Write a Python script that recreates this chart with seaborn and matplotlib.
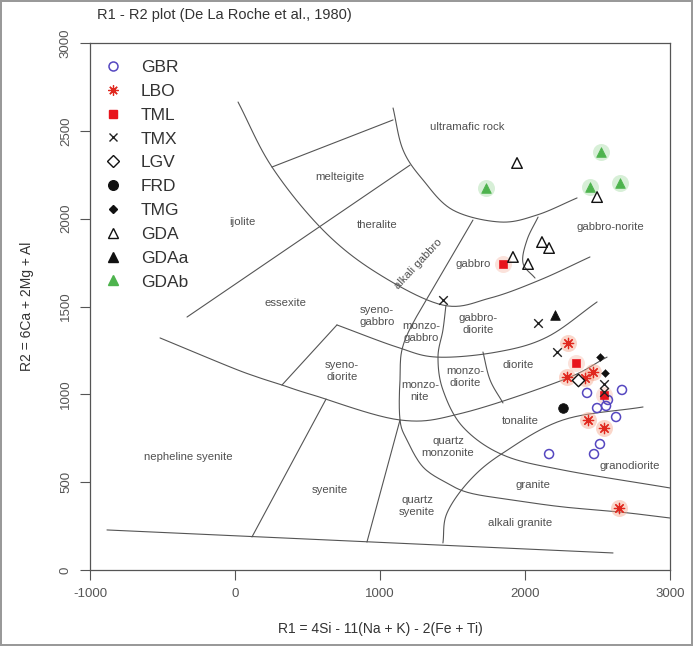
import matplotlib
matplotlib.use("Agg")
import numpy as np
import matplotlib.pyplot as plt
import seaborn as sns
import pandas as pd
from matplotlib.lines import Line2D

# ---- sample data (R1, R2) ----
gbr_r1 = [2428, 2497, 2559, 2669, 2628, 2517, 2476, 2166, 2572]
gbr_r2 = [1008, 922, 934, 1025, 871, 717, 660, 660, 968]
lbo_r1 = [2297, 2290, 2469, 2414, 2434, 2545, 2648]
lbo_r2 = [1292, 1099, 1127, 1093, 854, 808, 353]
tml_r1 = [1848, 2352, 2545]
tml_r2 = [1742, 1178, 996]
tmx_r1 = [1434, 2090, 2221, 2545, 2545]
tmx_r2 = [1537, 1406, 1241, 1013, 1059]
lgv_r1 = [2366]
lgv_r2 = [1082]
frd_r1 = [2262]
frd_r2 = [922]
tmg_r1 = [2517, 2552]
tmg_r2 = [1212, 1121]
gda_r1 = [1945, 2497, 2117, 2166, 1917, 2021]
gda_r2 = [2317, 2123, 1867, 1833, 1782, 1742]
gdaa_r1 = [2207]
gdaa_r2 = [1452]
gdab_r1 = [1731, 2448, 2655, 2524]
gdab_r2 = [2175, 2180, 2203, 2379]

groups = ["GBR", "LBO", "TML", "TMX", "LGV", "FRD", "TMG", "GDA", "GDAa", "GDAb"]

# ---- De La Roche field boundaries (R1, R2) ----
arc_upper_r1 = [21, 255, 607, 979, 1434, 1759, 2103, 2448]
arc_upper_r2 = [2664, 2294, 1935, 1691, 1508, 1548, 1651, 1782]
ultramafic_r1 = [1090, 1159, 1297, 1503, 1828, 2083, 2359]
ultramafic_r2 = [2630, 2391, 2220, 2049, 1981, 2021, 2118]
melteigite_r1 = [255, 1090]
melteigite_r2 = [2294, 2562]
ijolite_r1 = [-331, 1207]
ijolite_r2 = [1440, 2305]
alk_gabbro_r1 = [1641, 1400, 1172, 1138, 1138, 1186, 1297, 1462, 1621, 1917, 2262, 2655, 3000]
alk_gabbro_r2 = [1992, 1651, 1309, 1082, 854, 740, 586, 495, 438, 398, 359, 330, 296]
monzo_r1 = [1455, 1434, 1400, 1434, 1572, 1848, 2262, 3000]
monzo_r2 = [1508, 1366, 1212, 1025, 814, 655, 569, 467]
tonalite_r1 = [2814, 2262, 1848, 1621, 1462, 1434]
tonalite_r2 = [928, 854, 666, 512, 324, 154]
gabbro_dio_r1 = [703, 1117, 1393, 1807, 2152, 2497]
gabbro_dio_r2 = [1395, 1269, 1212, 1241, 1326, 1526]
monzonite_r1 = [-517, -34, 152, 324, 538, 1138, 1572, 2262, 2566]
monzonite_r2 = [1321, 1156, 1099, 1053, 996, 854, 894, 1082, 1212]
essexite_r1 = [703, 324]
essexite_r2 = [1395, 1053]
syenite_r1 = [628, 117]
syenite_r2 = [973, 188]
qz_syenite_r1 = [1138, 910]
qz_syenite_r2 = [854, 159]
bottom_r1 = [-883, 2607]
bottom_r2 = [228, 97]
norite_r1 = [2090, 2014, 1986, 2069]
norite_r2 = [2009, 1879, 1748, 1662]
diorite_r1 = [1710, 1759, 1848]
diorite_r2 = [1241, 1082, 951]

boundaries = [
    (arc_upper_r1, arc_upper_r2), (ultramafic_r1, ultramafic_r2),
    (melteigite_r1, melteigite_r2), (ijolite_r1, ijolite_r2),
    (alk_gabbro_r1, alk_gabbro_r2), (monzo_r1, monzo_r2),
    (tonalite_r1, tonalite_r2), (gabbro_dio_r1, gabbro_dio_r2),
    (monzonite_r1, monzonite_r2), (essexite_r1, essexite_r2),
    (syenite_r1, syenite_r2), (qz_syenite_r1, qz_syenite_r2),
    (bottom_r1, bottom_r2), (norite_r1, norite_r2), (diorite_r1, diorite_r2),
]

field_names = ["ultramafic rock", "melteigite", "ijolite", "theralite", "alkali gabbro",
               "gabbro", "gabbro-norite", "essexite", "syeno-\ngabbro", "monzo-\ngabbro",
               "gabbro-\ndiorite", "syeno-\ndiorite", "monzo-\ndiorite", "diorite",
               "monzo-\nnite", "tonalite", "quartz\nmonzonite", "granodiorite", "granite",
               "quartz\nsyenite", "alkali granite", "syenite", "nepheline syenite"]
field_r1 = [1600, 724, 48, 979, 1262, 1641, 2586, 345, 979, 1283, 1676, 738, 1586, 1952,
            1276, 1966, 1469, 2724, 2055, 1255, 1966, 655, -324]
field_r2 = [2522, 2237, 1981, 1964, 1742, 1742, 1953, 1520, 1446, 1355, 1400, 1133, 1099,
            1167, 1019, 848, 700, 592, 484, 364, 268, 455, 643]


def smooth(px, py, n=12):
    # catmull-rom through the read points so the field curves are not jagged
    px = np.asarray(px, float)
    py = np.asarray(py, float)
    if len(px) < 3:
        return px, py
    P = np.column_stack([px, py])
    P = np.vstack([2 * P[0] - P[1], P, 2 * P[-1] - P[-2]])
    out = []
    t = np.linspace(0, 1, n, endpoint=False)[:, None]
    for i in range(1, len(P) - 2):
        p0, p1, p2, p3 = P[i - 1], P[i], P[i + 1], P[i + 2]
        seg = 0.5 * ((2 * p1) + (-p0 + p2) * t + (2 * p0 - 5 * p1 + 4 * p2 - p3) * t ** 2
                     + (-p0 + 3 * p1 - 3 * p2 + p3) * t ** 3)
        out.append(seg)
    out.append(P[-2][None, :])
    out = np.vstack(out)
    return out[:, 0], out[:, 1]


# ---- build a long table ----
values = {
    "GBR": (gbr_r1, gbr_r2), "LBO": (lbo_r1, lbo_r2), "TML": (tml_r1, tml_r2),
    "TMX": (tmx_r1, tmx_r2), "LGV": (lgv_r1, lgv_r2), "FRD": (frd_r1, frd_r2),
    "TMG": (tmg_r1, tmg_r2), "GDA": (gda_r1, gda_r2), "GDAa": (gdaa_r1, gdaa_r2),
    "GDAb": (gdab_r1, gdab_r2),
}
rows = []
for g in groups:
    for a, b in zip(*values[g]):
        rows.append({"group": g, "R1": a, "R2": b})
df = pd.DataFrame(rows)

# marker styling per group
styles = {
    "GBR": dict(marker="o", s=42, facecolor="none", edgecolor="#5547c0", linewidth=1.1),
    "LBO": dict(marker=(8, 2, 0), s=55, color="#e0281e", linewidth=0.9),
    "TML": dict(marker="s", s=34, color="#e8141c", edgecolor="#e8141c"),
    "TMX": dict(marker="x", s=38, color="#222222", linewidth=1.0),
    "LGV": dict(marker="D", s=40, facecolor="white", edgecolor="#111111", linewidth=1.0),
    "FRD": dict(marker="o", s=48, color="#111111", edgecolor="#111111"),
    "TMG": dict(marker="D", s=16, color="#111111", edgecolor="#111111"),
    "GDA": dict(marker="^", s=58, facecolor="none", edgecolor="#111111", linewidth=1.0),
    "GDAa": dict(marker="^", s=48, color="#111111", edgecolor="#111111"),
    "GDAb": dict(marker="^", s=48, color="#4db34d", edgecolor="#4db34d"),
}
halo = {"LBO": "#f6a58a", "GDAb": "#a8dca8", "TML": "#f7c0b0"}

sns.set_theme(style="white")
plt.rcParams["font.family"] = ["Liberation Sans", "DejaVu Sans"]
plt.rcParams["axes.unicode_minus"] = False

fig = plt.figure(figsize=(6.93, 6.46), dpi=100)
ax = fig.add_axes([90 / 693, 1 - 570 / 646, 580 / 693, 527 / 646])

# field boundaries
for bx, by in boundaries:
    sx, sy = smooth(bx, by)
    ax.plot(sx, sy, color="#555555", lw=0.8, zorder=1)

for name, fx, fy in zip(field_names, field_r1, field_r2):
    rot = 47 if name == "alkali gabbro" else 0
    ax.text(fx, fy, name, ha="center", va="center", fontsize=8.2, color="#505050",
            rotation=rot, linespacing=1.15, zorder=2)

# soft halos behind some groups
for g, hc in halo.items():
    sub = df[df["group"] == g]
    ax.scatter(sub["R1"], sub["R2"], s=150, color=hc, alpha=0.45, linewidths=0, zorder=2)

for g in groups:
    sub = df[df["group"] == g]
    sns.scatterplot(data=sub, x="R1", y="R2", ax=ax, zorder=3, legend=False, **styles[g])

ax.set_xlim(-1000, 3000)
ax.set_ylim(0, 3000)
ax.set_xticks([-1000, 0, 1000, 2000, 3000])
ax.set_yticks([0, 500, 1000, 1500, 2000, 2500, 3000])
ax.set_yticklabels(["0", "500", "1000", "1500", "2000", "2500", "3000"],
                   rotation=90, va="center")
ax.tick_params(axis="both", direction="out", length=7, width=0.8, color="#555555",
               labelsize=9.5, labelcolor="#555555", pad=6, left=True, bottom=True)
for sp in ax.spines.values():
    sp.set_color("#555555")
    sp.set_linewidth(0.9)

ax.set_xlabel("R1 = 4Si - 11(Na + K) - 2(Fe + Ti)", fontsize=10, color="#333333", labelpad=16)
ax.set_ylabel("R2 = 6Ca + 2Mg + Al", fontsize=10, color="#333333", labelpad=19)
fig.text(97 / 693, 1 - 15 / 646, "R1 - R2 plot (De La Roche et al., 1980)",
         ha="left", va="center", fontsize=10.5, color="#333333")

# legend
handles = []
for g in groups:
    st = styles[g]
    fc = st.get("facecolor", st.get("color"))
    ec = st.get("edgecolor", st.get("color"))
    ms = (st["s"] ** 0.5)
    handles.append(Line2D([], [], linestyle="none", marker=st["marker"], markersize=ms,
                          markerfacecolor=fc, markeredgecolor=ec,
                          markeredgewidth=st.get("linewidth", 1.0), label=g))
ax.legend(handles=handles, loc="upper left", bbox_to_anchor=(0.003, 0.991), frameon=False,
          fontsize=12.5, labelspacing=0.5, handletextpad=1.13, handlelength=1.0,
          borderaxespad=0.3, labelcolor="#333333")

fig.patch.set_edgecolor("#999999")
fig.patch.set_linewidth(1.5)
fig.savefig("out.png", dpi=100, edgecolor=fig.get_edgecolor())
